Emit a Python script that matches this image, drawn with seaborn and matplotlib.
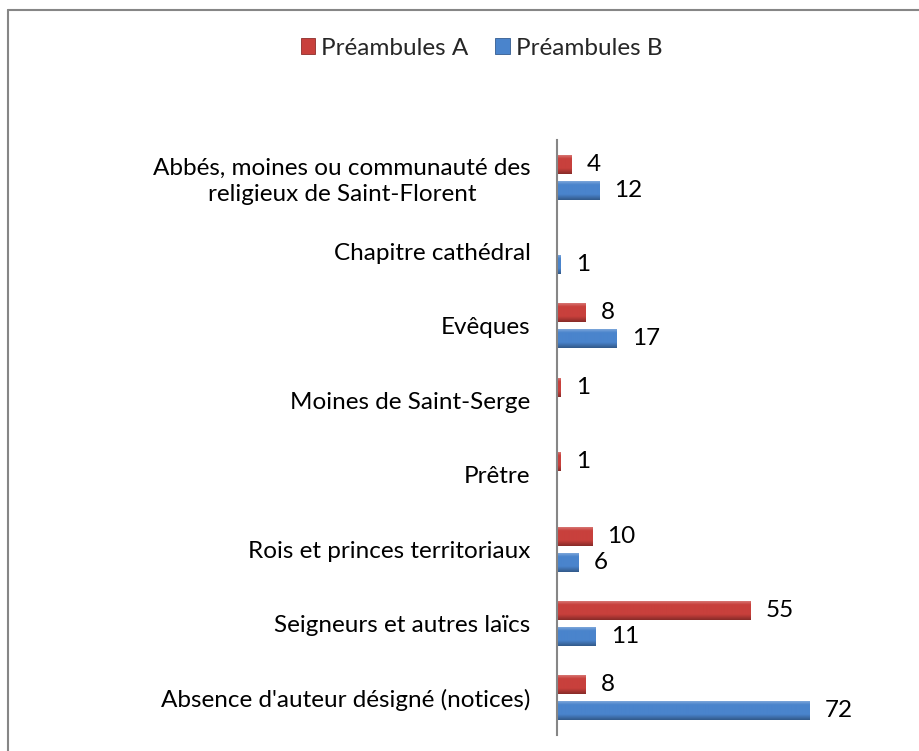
import numpy as np
import pandas as pd
import matplotlib
matplotlib.use("Agg")
import matplotlib.pyplot as plt
from matplotlib.patches import Patch
from matplotlib.lines import Line2D
import matplotlib.colors as mcolors
import seaborn as sns

categories = [
    "Abbés, moines ou communauté des\nreligieux de Saint-Florent",
    "Chapitre cathédral",
    "Evêques",
    "Moines de Saint-Serge",
    "Prêtre",
    "Rois et princes territoriaux",
    "Seigneurs et autres laïcs",
    "Absence d'auteur désigné (notices)",
]
series = ["Préambules A", "Préambules B"]
values_a = [4, 0, 8, 1, 1, 10, 55, 8]
values_b = [12, 1, 17, 0, 0, 6, 11, 72]
colors = {"Préambules A": "#C8403C", "Préambules B": "#4A84CC"}

df = pd.DataFrame({
    "categorie": categories * 2,
    "serie": [series[0]] * len(categories) + [series[1]] * len(categories),
    "valeur": values_a + values_b,
})

sns.set_theme(style="white")
plt.rcParams["font.family"] = ["Lato", "DejaVu Sans"]
FS = 17.5

fig = plt.figure(figsize=(9.19, 7.51), dpi=100)
ax = fig.add_axes([0.6061, 0.0213, 0.3058, 0.7923])

sns.barplot(data=df, x="valeur", y="categorie", hue="serie", order=categories,
            hue_order=series, palette=colors, orient="h", width=0.7, gap=0.27,
            saturation=1, legend=False, ax=ax, linewidth=0)


def bevel_image(base, n=40):
    rgb = np.array(mcolors.to_rgb(base))
    light = rgb + (1 - rgb) * 0.35
    dark = rgb * 0.68
    t = np.linspace(0, 1, n)
    img = np.empty((n, 1, 3))
    for i, ti in enumerate(t):
        if ti < 0.22:
            c = light + (rgb - light) * (ti / 0.22)
        elif ti < 0.72:
            c = rgb
        else:
            c = rgb + (dark - rgb) * ((ti - 0.72) / 0.28)
        img[i, 0] = c
    return img


# Bevelled fill clipped to each bar drawn by seaborn
for patch in list(ax.patches):
    w = patch.get_width()
    if w <= 0:
        continue
    x0, y0, h = patch.get_x(), patch.get_y(), patch.get_height()
    base = patch.get_facecolor()
    im = ax.imshow(bevel_image(base), extent=[x0, x0 + w, y0, y0 + h],
                   origin="lower", aspect="auto", zorder=patch.get_zorder() + 0.1,
                   interpolation="bilinear")
    im.set_clip_path(patch)

for container, vals in zip(ax.containers, [values_a, values_b]):
    labels = [str(v) if v else "" for v in vals]
    ax.bar_label(container, labels=labels, padding=11, fontsize=FS, color="#000000")

ax.set_xlim(0, 80)
ax.set_ylim(len(categories) - 0.5, -0.5)
ax.set_xlabel("")
ax.set_ylabel("")
ax.set_xticks([])
ax.tick_params(axis="y", length=0, pad=19, labelsize=FS, labelcolor="#000000")
for lbl in ax.get_yticklabels():
    lbl.set_multialignment("center")
    lbl.set_linespacing(1.3)
for side in ["top", "right", "bottom"]:
    ax.spines[side].set_visible(False)
ax.spines["left"].set_color("#868686")
ax.spines["left"].set_linewidth(1.5)

handles = [Patch(facecolor=colors[s], edgecolor=mcolors.to_hex(np.array(mcolors.to_rgb(colors[s])) * 0.7),
                 linewidth=0.6) for s in series]
fig.legend(handles, series, loc="center", bbox_to_anchor=(0.524, 0.936), ncol=2,
           frameon=False, fontsize=FS, handlelength=0.6, handleheight=0.6,
           handletextpad=0.25, columnspacing=1.1)

# Chart frame
fig.add_artist(Line2D([8 / 919, 8 / 919], [0, 1 - 10 / 751], transform=fig.transFigure,
                      color="#868686", linewidth=1.5))
fig.add_artist(Line2D([8 / 919, 1], [1 - 10 / 751, 1 - 10 / 751], transform=fig.transFigure,
                      color="#868686", linewidth=1.5))

fig.savefig("out.png", dpi=100, facecolor="white")
